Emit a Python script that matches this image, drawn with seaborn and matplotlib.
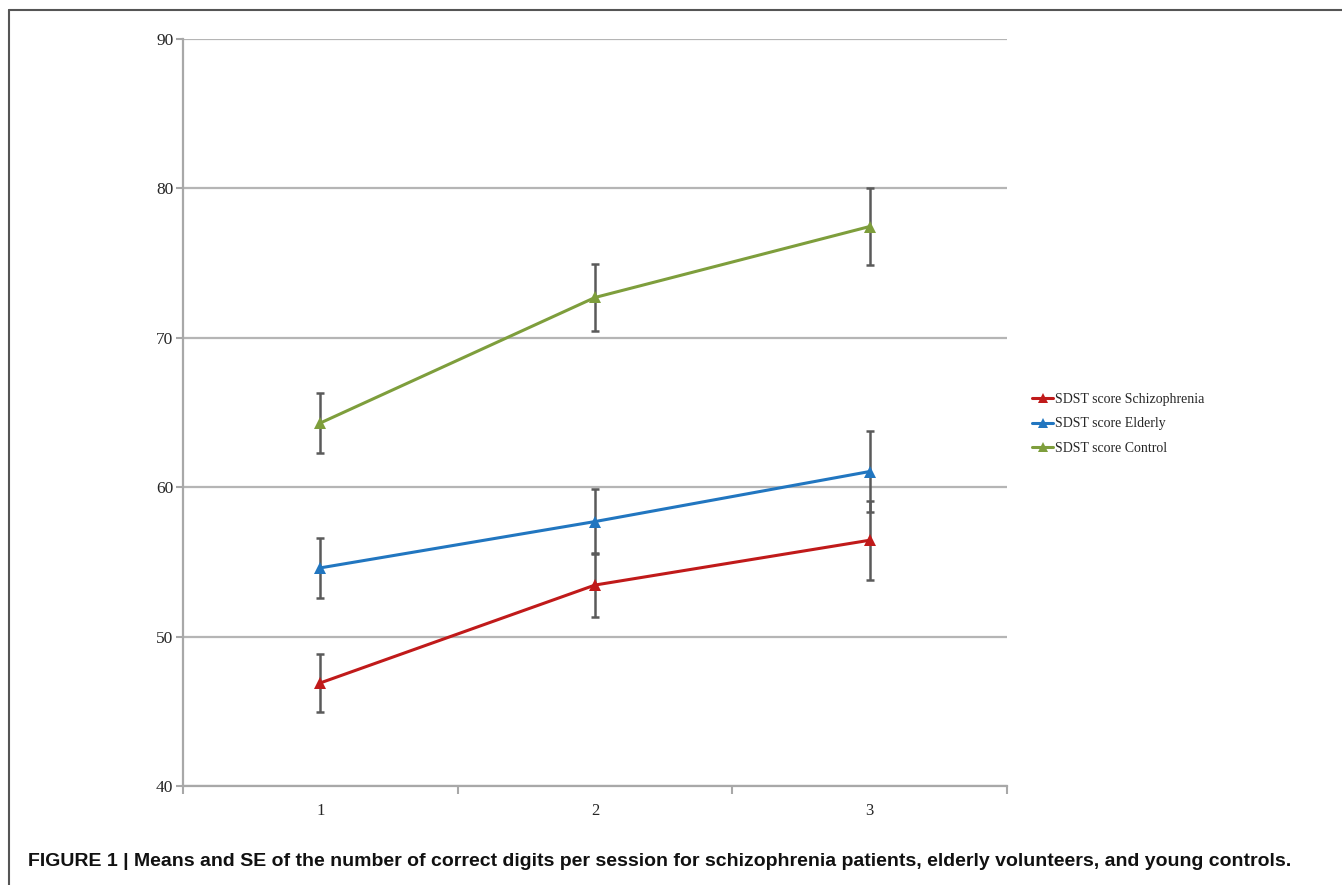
import numpy as np
import pandas as pd
import matplotlib
matplotlib.use("Agg")
import matplotlib.pyplot as plt
from matplotlib.lines import Line2D
import seaborn as sns

# data
sessions = [1, 2, 3]
series_names = ["SDST score Schizophrenia", "SDST score Elderly", "SDST score Control"]
schizo_mean = [46.9, 53.45, 56.45]
schizo_se = [1.95, 2.15, 2.65]
elderly_mean = [54.6, 57.7, 61.05]
elderly_se = [2.0, 2.2, 2.7]
control_mean = [64.3, 72.7, 77.45]
control_se = [2.0, 2.25, 2.6]
colors = ["#C01A1A", "#2176C0", "#7E9E3C"]

means = [schizo_mean, elderly_mean, control_mean]
ses = [schizo_se, elderly_se, control_se]

# long table for seaborn
rows = []
for name, m, s in zip(series_names, means, ses):
    for x, v, e in zip(sessions, m, s):
        rows.append({"session": x, "score": v, "se": e, "group": name})
df = pd.DataFrame(rows)

sns.set_style("white")
plt.rcParams["font.family"] = ["Liberation Serif", "DejaVu Serif"]

fig = plt.figure(figsize=(13.42, 8.85), dpi=100)
ax = fig.add_axes([0.1364, 0.1119, 0.6140, 0.8440])

# error bars first, so lines sit on top
for name in series_names:
    sub = df[df["group"] == name]
    ax.errorbar(sub["session"], sub["score"], yerr=sub["se"], fmt="none",
                ecolor="#5a5a5a", elinewidth=1.8, capsize=3, capthick=1.8, zorder=2)

sns.lineplot(data=df, x="session", y="score", hue="group", hue_order=series_names,
             palette=colors, marker="^", markersize=9, markeredgewidth=0,
             linewidth=2.2, ax=ax, zorder=3, legend=False)

ax.set_xlim(0.5, 3.5)
ax.set_ylim(40, 90)
ax.set_yticks([40, 50, 60, 70, 80, 90])
ax.set_xticks(sessions)
ax.set_xticks([0.5, 1.5, 2.5, 3.5], minor=True)
ax.set_xlabel("")
ax.set_ylabel("")
ax.yaxis.grid(True, color="#b5b5b5", linewidth=1.6)
ax.set_axisbelow(True)

for side in ["top", "right"]:
    ax.spines[side].set_visible(False)
for side in ["left", "bottom"]:
    ax.spines[side].set_color("#a8a8a8")
    ax.spines[side].set_linewidth(1.6)

ax.tick_params(axis="y", which="major", length=5, width=1.5, color="#a8a8a8",
               labelsize=12.5, pad=2, direction="out", left=True)
ax.tick_params(axis="x", which="major", length=0, labelsize=12, pad=12)
ax.tick_params(axis="x", which="minor", length=6, width=1.5, color="#a8a8a8",
               direction="out", bottom=True)

handles = [Line2D([0], [0], color=c, lw=2.2, marker="^", markersize=7,
                  markeredgewidth=0) for c in colors]
fig.legend(handles, series_names, loc="center left", bbox_to_anchor=(0.76, 0.521),
           frameon=False, fontsize=10, handlelength=1.5, handletextpad=0.1,
           labelspacing=0.8)

# frame lines of the figure panel
fig.add_artist(Line2D([9 / 1342, 1], [1 - 10 / 885, 1 - 10 / 885],
                      color="#555555", lw=1.5, transform=fig.transFigure))
fig.add_artist(Line2D([9 / 1342, 9 / 1342], [0, 1 - 10 / 885],
                      color="#555555", lw=1.5, transform=fig.transFigure))

fig.text(28 / 1342, 1 - 862 / 885,
         "FIGURE 1 | Means and SE of the number of correct digits per session for "
         "schizophrenia patients, elderly volunteers, and young controls.",
         family=["Liberation Sans", "DejaVu Sans"],
         fontweight="bold", fontsize=14, va="center", ha="left", color="#111111")

fig.savefig("out.png", dpi=100)
